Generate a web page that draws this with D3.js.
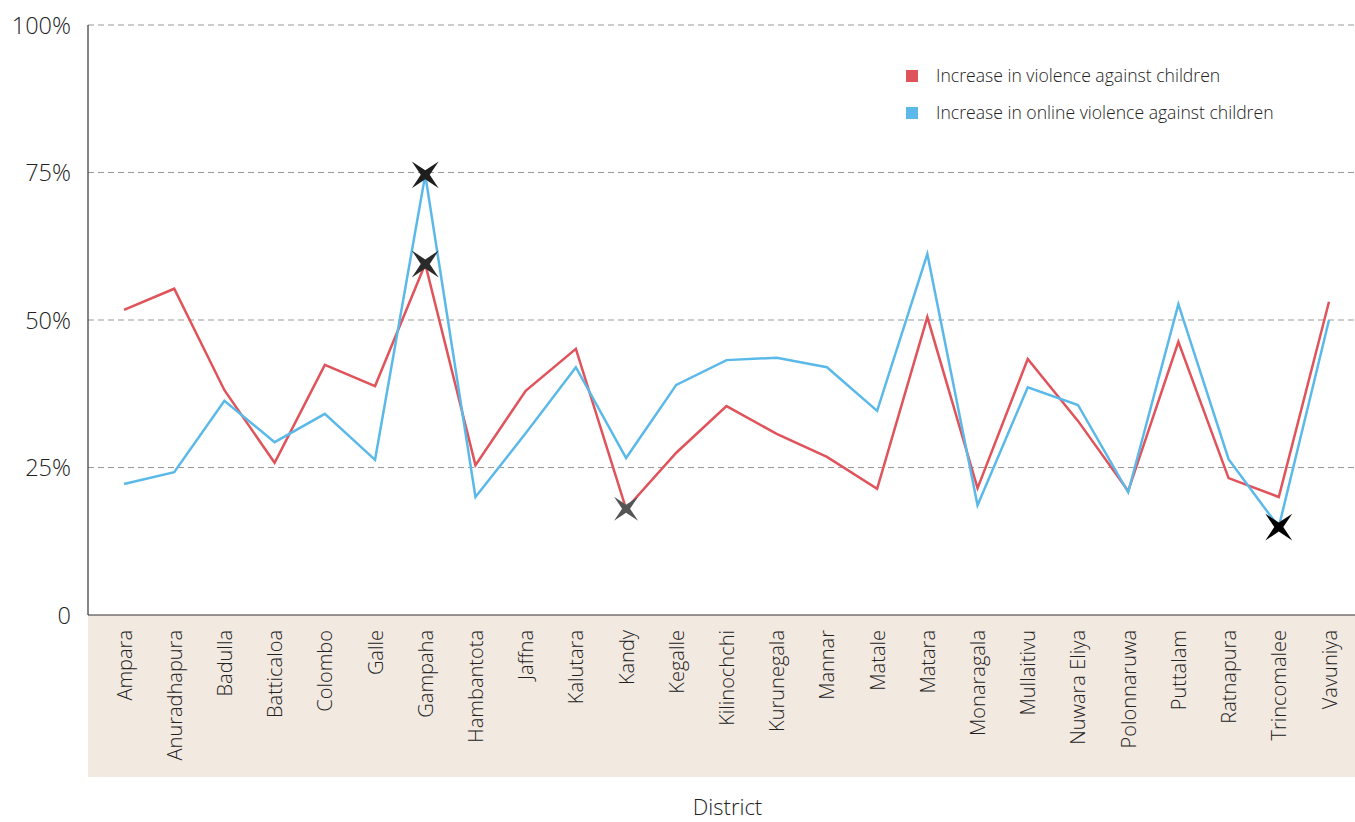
<!DOCTYPE html>
<meta charset="utf-8">
<style>
body { margin: 0; background: #fff; }
text { font-family: "Open Sans", Roboto, sans-serif; font-weight: 300; fill: #222; }
.grid line { stroke: #999; stroke-dasharray: 6 4; stroke-width: 1; }
.line { fill: none; stroke-width: 2.5; stroke-linejoin: miter; }
</style>
<body></body>
<script src="https://d3js.org/d3.v7.min.js"></script>
<script>
// districts along the x axis
var districts = ["Ampara", "Anuradhapura", "Badulla", "Batticaloa", "Colombo", "Galle", "Gampaha",
  "Hambantota", "Jaffna", "Kalutara", "Kandy", "Kegalle", "Kilinochchi", "Kurunegala", "Mannar",
  "Matale", "Matara", "Monaragala", "Mullaitivu", "Nuwara Eliya", "Polonnaruwa", "Puttalam",
  "Ratnapura", "Trincomalee", "Vavuniya"];

// increase in violence against children (%)
var violence = [51.7, 55.3, 38.1, 25.8, 42.4, 38.8, 59.5, 25.4, 38.0, 45.1, 18.0, 27.5, 35.4,
  30.7, 26.8, 21.4, 50.5, 21.5, 43.4, 32.9, 21.0, 46.3, 23.2, 20.0, 53.1];

// increase in online violence against children (%)
var online = [22.2, 24.2, 36.3, 29.3, 34.1, 26.3, 74.6, 20.0, 30.8, 42.0, 26.6, 39.0, 43.2,
  43.6, 42.0, 34.6, 61.2, 18.6, 38.6, 35.6, 20.8, 52.7, 26.4, 14.9, 50.0];

var yTicks = [0, 25, 50, 75, 100];
var yTickLabels = ["0", "25%", "50%", "75%", "100%"];

var seriesNames = ["Increase in violence against children", "Increase in online violence against children"];
var colors = ["#e0535a", "#5bb9e9"];

// highlighted points: series index, district
var marks = [
  {s: 1, d: "Gampaha", c: "#1e1e1e"},
  {s: 0, d: "Gampaha", c: "#2a2a2a"},
  {s: 0, d: "Kandy", c: "#555"},
  {s: 1, d: "Trincomalee", c: "#000"}
];

var W = 1355, H = 822;
var margin = {top: 25, right: 0, bottom: 207, left: 88};
var width = W - margin.left - margin.right,
    height = H - margin.top - margin.bottom;

var svg = d3.select("body").append("svg")
    .attr("width", W).attr("height", H);

var g = svg.append("g")
    .attr("transform", "translate(" + margin.left + "," + margin.top + ")");

var x = d3.scalePoint().domain(districts).range([36, 1241]);
var y = d3.scaleLinear().domain([0, 100]).range([height, 0]);

// beige band behind category labels
g.append("rect")
    .attr("x", 0).attr("y", height)
    .attr("width", width).attr("height", 162)
    .attr("fill", "#f2e9e1");

// gridlines
g.append("g").attr("class", "grid")
  .selectAll("line")
  .data(yTicks.filter(function(d) { return d > 0; }))
  .enter().append("line")
    .attr("x1", 0).attr("x2", width)
    .attr("y1", function(d) { return y(d); })
    .attr("y2", function(d) { return y(d); });

// y axis
var yAxis = d3.axisLeft(y)
    .tickValues(yTicks)
    .tickFormat(function(d, i) { return yTickLabels[i]; })
    .tickSize(0)
    .tickPadding(17);

var ya = g.append("g").call(yAxis);
ya.select(".domain").remove();
ya.selectAll("text").attr("font-size", 23.5).attr("dy", "0.35em");

g.append("line")
    .attr("x1", 0).attr("x2", 0).attr("y1", 0).attr("y2", height)
    .attr("stroke", "#333").attr("stroke-width", 1.2);
g.append("line")
    .attr("x1", 0).attr("x2", width).attr("y1", height).attr("y2", height)
    .attr("stroke", "#333").attr("stroke-width", 1.2);

// x axis labels
var xAxis = d3.axisBottom(x).tickSize(0).tickPadding(0);
var xa = g.append("g")
    .attr("transform", "translate(0," + height + ")")
    .call(xAxis);
xa.select(".domain").remove();
xa.selectAll("text")
    .attr("font-size", 20)
    .attr("text-anchor", "end")
    .attr("dy", "0.35em")
    .attr("transform", "translate(0,15) rotate(-90)");

// lines
var line = d3.line()
    .x(function(d, i) { return x(districts[i]); })
    .y(function(d) { return y(d); });

[violence, online].forEach(function(s, i) {
  g.append("path")
      .datum(s)
      .attr("class", "line")
      .attr("stroke", colors[i])
      .attr("d", line);
});

// four pointed star markers
function star(r, ri) {
  var pts = [];
  for (var k = 0; k < 8; k++) {
    var a = Math.PI / 4 + k * Math.PI / 4;
    var rr = k % 2 === 0 ? r : ri;
    pts.push([rr * Math.cos(a), rr * Math.sin(a)]);
  }
  return "M" + pts.join("L") + "Z";
}

g.selectAll(".mark")
  .data(marks)
  .enter().append("path")
    .attr("class", "mark")
    .attr("fill", function(d) { return d.c; })
    .attr("d", function(d) { return d.d === "Kandy" ? star(17, 4) : star(19, 4.5); })
    .attr("transform", function(d) {
      var v = (d.s === 0 ? violence : online)[districts.indexOf(d.d)];
      return "translate(" + x(d.d) + "," + y(v) + ")";
    });

// legend
var lg = svg.append("g").attr("transform", "translate(906,70)");
seriesNames.forEach(function(n, i) {
  var row = lg.append("g").attr("transform", "translate(0," + (i * 37) + ")");
  row.append("rect").attr("width", 12).attr("height", 12).attr("fill", colors[i]);
  row.append("text").attr("x", 30).attr("y", 6).attr("dy", "0.35em")
      .attr("font-size", 17.6).text(n);
});

// axis title
svg.append("text")
    .attr("x", margin.left + width / 2 + 6)
    .attr("y", 815)
    .attr("text-anchor", "middle")
    .attr("font-size", 22)
    .text("District");
</script>
